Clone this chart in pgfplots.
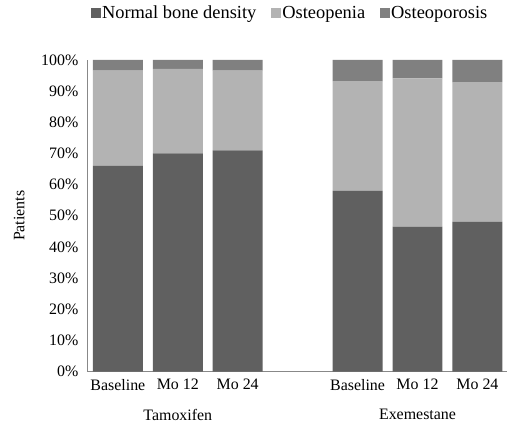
\documentclass[border=0pt]{standalone}
\usepackage{fontspec}
\setmainfont{Liberation Serif}
\usepackage{pgfplots}
\pgfplotsset{compat=1.18}
\definecolor{cNormal}{HTML}{606060}
\definecolor{cPenia}{HTML}{B3B3B3}
\definecolor{cPorosis}{HTML}{808080}
\definecolor{cAxis}{HTML}{888888}
\begin{document}
\begin{tikzpicture}
\begin{axis}[
  name=ax,
  scale only axis,
  width=420bp, height=312bp,
  ybar stacked,
  bar width=50bp,
  xmin=-0.5, xmax=6.5,
  ymin=0, ymax=100,
  xtick={0,1,2,4,5,6},
  xticklabels={Baseline,Mo 12,Mo 24,Baseline,Mo 12,Mo 24},
  ytick={0,10,...,100},
  yticklabel={\pgfmathprintnumber{\tick}\%},
  /pgf/number format/assume math mode=true,
  major tick length=0pt,
  axis x line*=bottom, axis y line*=left,
  axis line style={cAxis, line width=1.2pt, -},
  tick label style={font=\fontsize{16}{18}\selectfont, black},
  xticklabel style={yshift=-4bp},
  yticklabel style={xshift=-6bp},
  ylabel={Patients},
  ylabel style={at={(axis description cs:-0.164,0.5)}, anchor=center, font=\fontsize{16}{18}\selectfont},
  legend style={at={(axis description cs:0.481,1.115)}, anchor=south, draw=none,
    legend columns=-1, font=\fontsize{18.5}{20}\selectfont,
    /tikz/every even column/.append style={column sep=13bp},
    nodes={inner xsep=1.5bp}},
  legend image code/.code={\fill[#1] (0bp,-5bp) rectangle (10bp,5bp);},
  clip=false,
]
\addplot[fill=cNormal, draw=none] coordinates {(0,66) (1,70) (2,71) (4,58) (5,46.5) (6,48)};
\addplot[fill=cPenia, draw=none] coordinates {(0,30.6) (1,27.1) (2,25.6) (4,35.2) (5,47.6) (6,44.9)};
\addplot[fill=cPorosis, draw=none] coordinates {(0,3.4) (1,2.9) (2,3.4) (4,6.8) (5,5.9) (6,7.1)};
\legend{Normal bone density, Osteopenia, Osteoporosis}
\node[font=\fontsize{16}{18}\selectfont] at (axis cs:1,0) [yshift=-43bp] {Tamoxifen};
\node[font=\fontsize{16}{18}\selectfont] at (axis cs:5,0) [yshift=-43bp] {Exemestane};
\end{axis}
\path (ax.south west) ++(-88bp,-62bp) rectangle ++(508bp,434bp);
\end{tikzpicture}
\end{document}
